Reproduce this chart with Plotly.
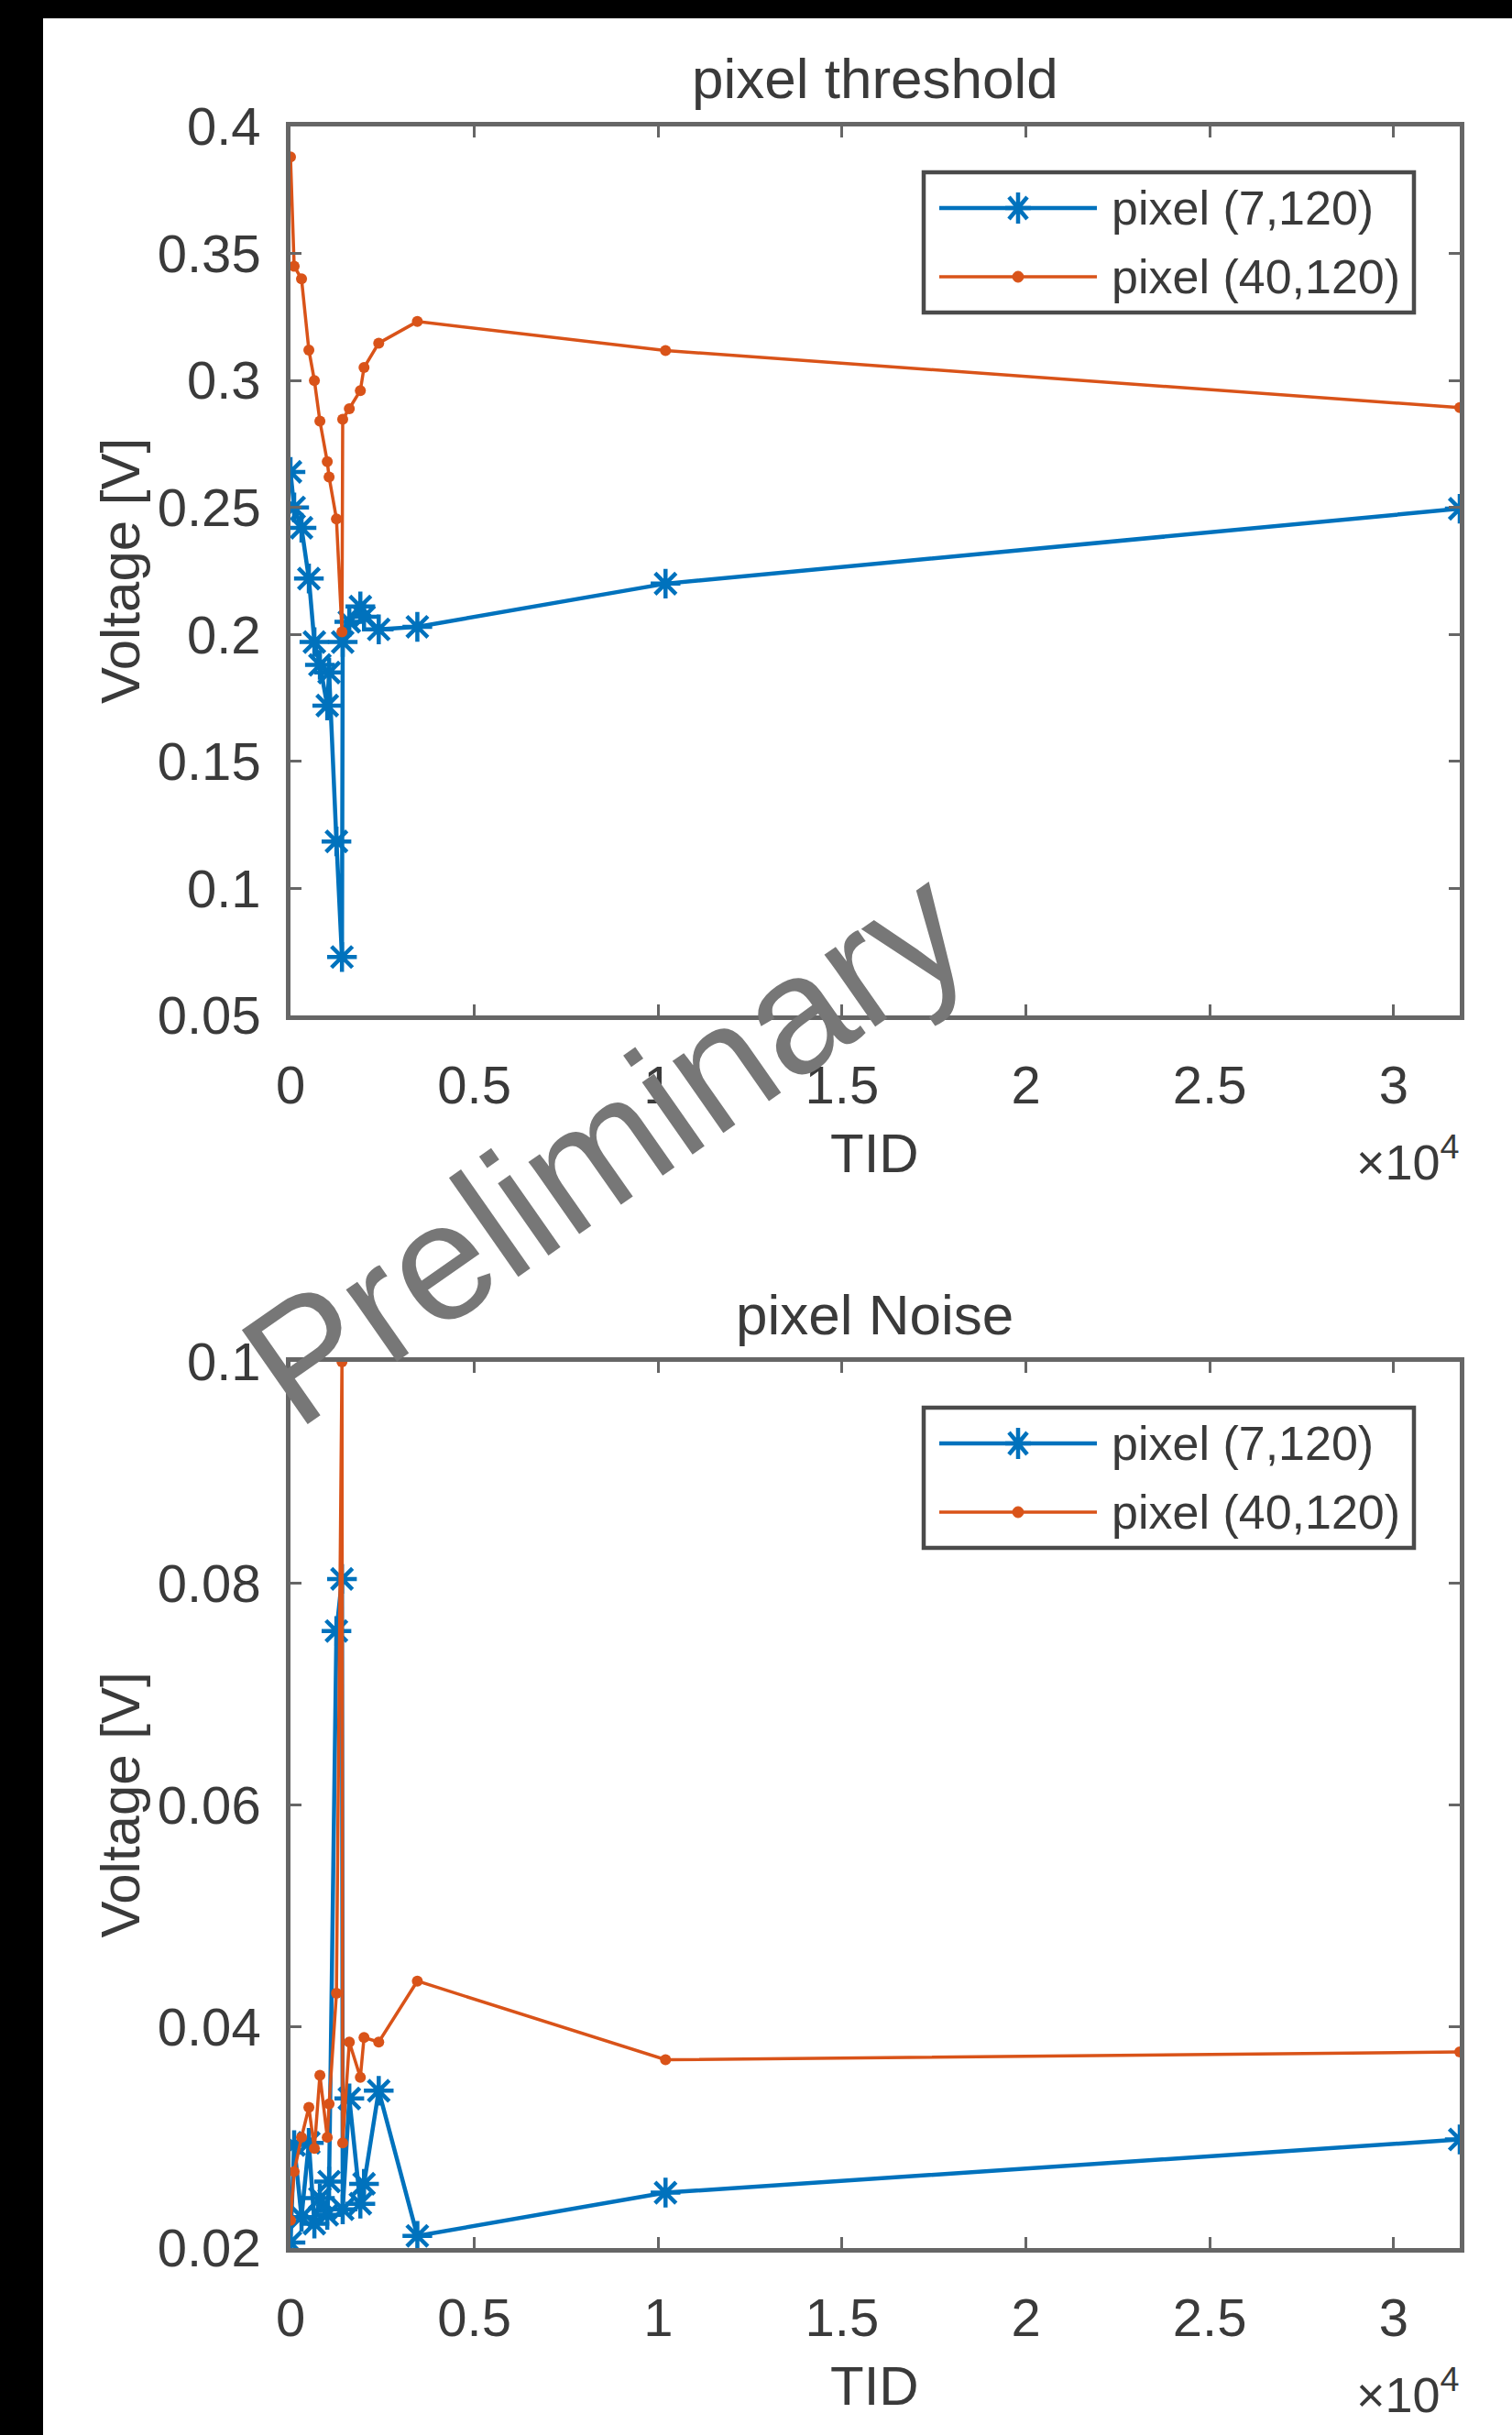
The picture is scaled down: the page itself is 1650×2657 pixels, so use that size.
import plotly.graph_objects as go

# ---------------- data ----------------
TID = [0, 100, 300, 500, 650, 800, 1000, 1050, 1250, 1400, 1420, 1600, 1900, 2000, 2400, 3450, 10200, 31800]

thr_pix_7_120 = [0.264, 0.250, 0.242, 0.222, 0.197, 0.188, 0.172, 0.185, 0.1185, 0.073, 0.197, 0.205,
                 0.211, 0.207, 0.202, 0.203, 0.220, 0.2495]
thr_pix_40_120 = [0.388, 0.345, 0.340, 0.312, 0.300, 0.284, 0.268, 0.262, 0.2455, 0.201, 0.2847, 0.2889,
                  0.296, 0.3051, 0.3147, 0.3232, 0.3118, 0.2893]

noise_pix_7_120 = [0.0205, 0.0293, 0.0228, 0.0295, 0.0222, 0.0245, 0.0230, 0.0260, 0.0757, 0.0804, 0.0235,
                   0.0335, 0.0240, 0.0258, 0.0342, 0.0211, 0.0250, 0.0298]
noise_pix_40_120 = [0.0225, 0.0269, 0.0300, 0.0327, 0.0290, 0.0356, 0.0300, 0.0330, 0.0430, 0.1000, 0.0295,
                    0.0386, 0.0354, 0.0390, 0.0386, 0.0441, 0.0370, 0.0377]

series_names = ["pixel (7,120)", "pixel (40,120)"]

x_tickvals = [0, 5000, 10000, 15000, 20000, 25000, 30000]
x_ticktext = ["0", "0.5", "1", "1.5", "2", "2.5", "3"]
thr_tickvals = [0.05, 0.1, 0.15, 0.2, 0.25, 0.3, 0.35, 0.4]
thr_ticktext = ["0.05", "0.1", "0.15", "0.2", "0.25", "0.3", "0.35", "0.4"]
noise_tickvals = [0.02, 0.04, 0.06, 0.08, 0.1]
noise_ticktext = ["0.02", "0.04", "0.06", "0.08", "0.1"]

# ---------------- styling ----------------
W, H = 1650, 2657
BLUE = "#0072BD"
ORANGE = "#D95319"
AXC = "#666666"
TXT = "#3a3a3a"
FONT = "Liberation Sans, Arial, Helvetica, sans-serif"


def px(x):
    return x / W


def py(y):
    return 1 - y / H


# axes boxes in page pixels
top_box = dict(l=317, r=1593, t=138, b=1108)
bot_box = dict(l=317, r=1593, t=1486, b=2453)

fig = go.Figure()


def add_pair(xa, ya, y1, y2):
    fig.add_trace(go.Scatter(
        x=TID, y=y1, mode="lines+markers", name=series_names[0], showlegend=False,
        xaxis=xa, yaxis=ya,
        line=dict(color=BLUE, width=4.5),
        marker=dict(symbol="asterisk-open", size=27, color=BLUE, line=dict(color=BLUE, width=4.5)),
        cliponaxis=True))
    fig.add_trace(go.Scatter(
        x=TID, y=y2, mode="lines+markers", name=series_names[1], showlegend=False,
        xaxis=xa, yaxis=ya,
        line=dict(color=ORANGE, width=3.5),
        marker=dict(symbol="circle", size=12, color=ORANGE),
        cliponaxis=True))


add_pair("x", "y", thr_pix_7_120, thr_pix_40_120)
add_pair("x2", "y2", noise_pix_7_120, noise_pix_40_120)

xmax = max(TID)

common_axis = dict(showgrid=False, zeroline=False, showline=True, linecolor=AXC, linewidth=4.5,
                   mirror="ticks", ticks="inside", ticklen=12, tickwidth=3, tickcolor=AXC,
                   tickfont=dict(family=FONT, size=58, color=TXT), automargin=False)

fig.update_layout(
    width=W, height=H,
    margin=dict(l=0, r=0, t=0, b=0),
    paper_bgcolor="white", plot_bgcolor="white",
    showlegend=False,
    xaxis=dict(domain=[px(top_box["l"]), px(top_box["r"])], anchor="y", range=[0, xmax],
               tickmode="array", tickvals=x_tickvals, ticktext=x_ticktext, ticklabelstandoff=22,
               **common_axis),
    yaxis=dict(domain=[py(top_box["b"]), py(top_box["t"])], anchor="x", range=[0.05, 0.4],
               tickmode="array", tickvals=thr_tickvals, ticktext=thr_ticktext, ticklabelstandoff=16,
               **common_axis),
    xaxis2=dict(domain=[px(bot_box["l"]), px(bot_box["r"])], anchor="y2", range=[0, xmax],
                tickmode="array", tickvals=x_tickvals, ticktext=x_ticktext, ticklabelstandoff=22,
                **common_axis),
    yaxis2=dict(domain=[py(bot_box["b"]), py(bot_box["t"])], anchor="x2", range=[0.02, 0.1],
                tickmode="array", tickvals=noise_tickvals, ticktext=noise_ticktext, ticklabelstandoff=16,
                **common_axis),
)

shapes = []
annotations = []

# black photo borders (left and top)
shapes.append(dict(type="rect", xref="paper", yref="paper", x0=0, x1=px(47), y0=0, y1=1,
                   fillcolor="black", line=dict(width=0), layer="above"))
shapes.append(dict(type="rect", xref="paper", yref="paper", x0=0, x1=1, y0=py(20), y1=1,
                   fillcolor="black", line=dict(width=0), layer="above"))


def text(x, y, s, size, angle=0, xanchor="center", yanchor="middle", color=TXT):
    annotations.append(dict(xref="paper", yref="paper", x=px(x), y=py(y), text=s, showarrow=False,
                            xanchor=xanchor, yanchor=yanchor, textangle=angle,
                            font=dict(family=FONT, size=size, color=color)))


def decorate(box, title):
    cx = (box["l"] + box["r"]) / 2
    cy = (box["t"] + box["b"]) / 2
    text(cx, box["t"] - 52, title, 62)
    text(cx, box["b"] + 150, "TID", 60)
    text(box["r"] + 2, box["b"] + 156, "×10<sup>4</sup>", 54, xanchor="right")
    text(131, cy, "Voltage [V]", 60, angle=-90)

    # legend box
    off = box["t"]
    lx0, lx1 = 1008, 1543
    ly0, ly1 = off + 50, off + 203
    shapes.append(dict(type="rect", xref="paper", yref="paper", x0=px(lx0), x1=px(lx1),
                       y0=py(ly1), y1=py(ly0), line=dict(color="#4a4a4a", width=4.5),
                       fillcolor="white", layer="above"))
    rows = [(off + 89, BLUE, series_names[0]), (off + 164, ORANGE, series_names[1])]
    for i, (yy, col, name) in enumerate(rows):
        shapes.append(dict(type="line", xref="paper", yref="paper", x0=px(1025), x1=px(1197),
                           y0=py(yy), y1=py(yy), line=dict(color=col, width=4.5 if i == 0 else 3.5),
                           layer="above"))
        if i == 0:
            shapes.append(dict(type="path", xref="paper", yref="paper", xsizemode="pixel",
                               ysizemode="pixel", xanchor=px(1111), yanchor=py(yy),
                               path="M0,-17V17M-14,0H14M10,12L-10,-12M10,-12L-10,12",
                               line=dict(color=col, width=4.5), layer="above"))
        else:
            shapes.append(dict(type="circle", xref="paper", yref="paper", xsizemode="pixel",
                               ysizemode="pixel", xanchor=px(1111), yanchor=py(yy),
                               x0=-6, x1=6, y0=-6, y1=6, fillcolor=col, line=dict(color=col, width=1),
                               layer="above"))
        text(1211, yy, name, 52, xanchor="left")


decorate(top_box, "pixel threshold")
decorate(bot_box, "pixel Noise")

# watermark
text(660, 1250, "Preliminary", 182, angle=-35, color="#777777")

fig.update_layout(shapes=shapes, annotations=annotations)

fig.write_html("out.html")
